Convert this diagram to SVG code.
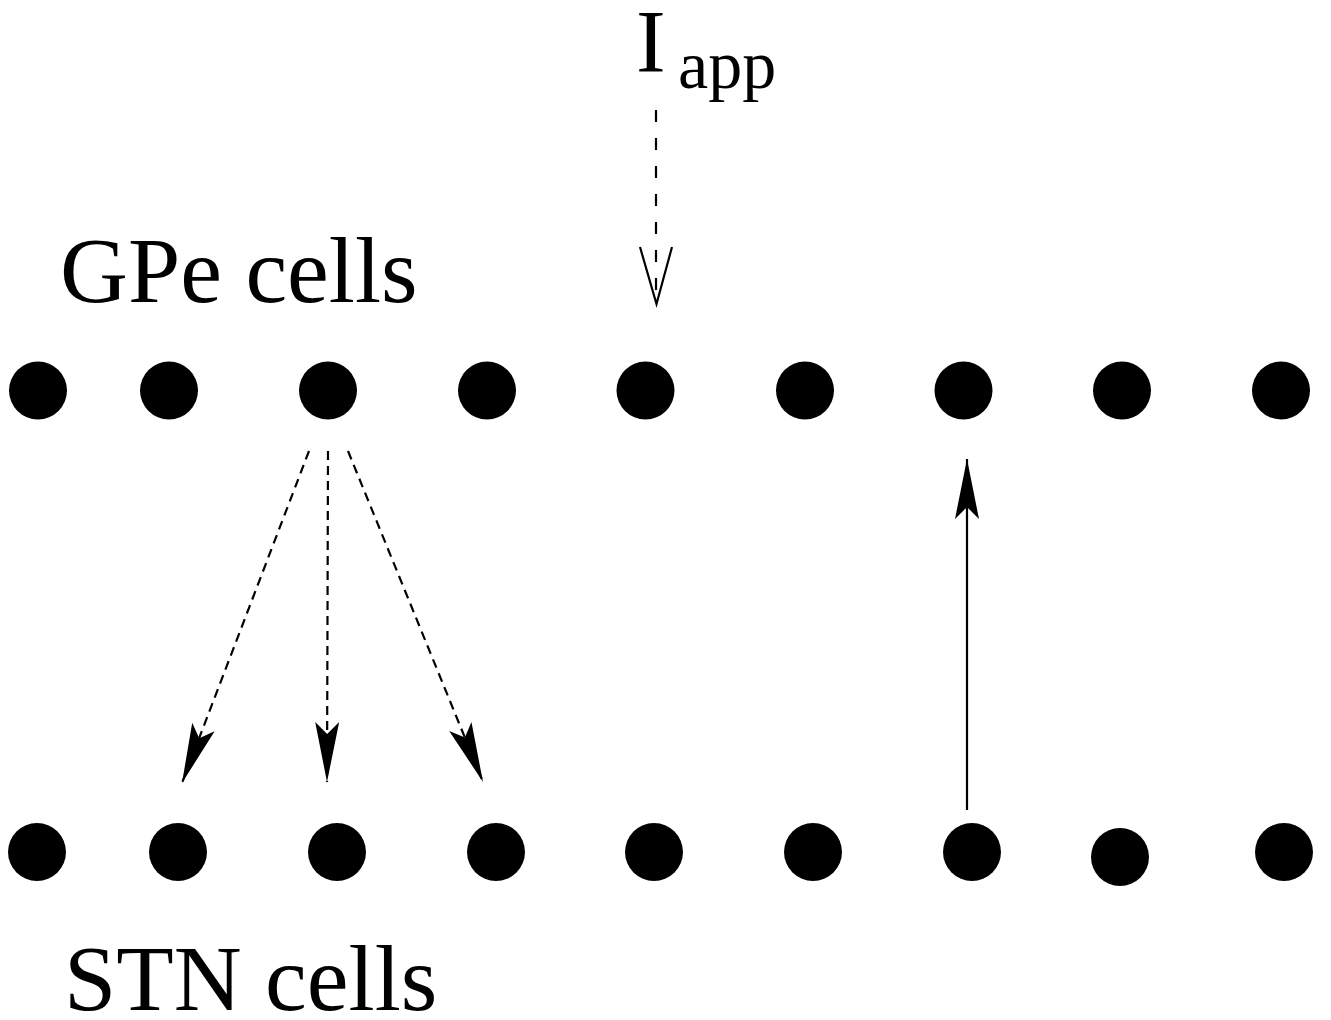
<svg xmlns="http://www.w3.org/2000/svg" width="1331" height="1020" viewBox="0 0 1331 1020">
<style>
.lbl{font-family:"Liberation Serif","Times New Roman",serif;fill:#000}
.dot{fill:#000}
.dash{stroke:#000;stroke-width:2.2;fill:none;stroke-dasharray:9 6}
.dashI{stroke:#000;stroke-width:2.2;fill:none;stroke-dasharray:12 16}
.solid{stroke:#000;stroke-width:2.2;fill:none}
</style>
<defs>
<marker id="ah" markerUnits="userSpaceOnUse" viewBox="-62 -14 64 28" refX="0" refY="0" markerWidth="64" markerHeight="28" orient="auto">
<path d="M0,0 L-60,-12 L-48,0 L-60,12 Z" fill="#000"/>
</marker>
</defs>
<rect width="1331" height="1020" fill="#fff"/>
<g id="label-Iapp">
<text class="lbl" x="636" y="71" font-size="89">I</text>
<text class="lbl" x="678" y="88" font-size="68">app</text>
</g>
<g id="label-GPe"><text class="lbl" x="60" y="302" font-size="94">GPe cells</text></g>
<g id="label-STN"><text class="lbl" x="64" y="1010" font-size="94">STN cells</text></g>
<g id="gpe-row">
<circle id="gpe1" class="dot" cx="38" cy="390.5" r="29"/>
<circle id="gpe2" class="dot" cx="169" cy="390.5" r="29"/>
<circle id="gpe3" class="dot" cx="328" cy="390.5" r="29"/>
<circle id="gpe4" class="dot" cx="487" cy="390.5" r="29"/>
<circle id="gpe5" class="dot" cx="645.5" cy="390.5" r="29"/>
<circle id="gpe6" class="dot" cx="805" cy="390.5" r="29"/>
<circle id="gpe7" class="dot" cx="963.5" cy="390.5" r="29"/>
<circle id="gpe8" class="dot" cx="1122" cy="390.5" r="29"/>
<circle id="gpe9" class="dot" cx="1281" cy="390.5" r="29"/>
</g>
<g id="stn-row">
<circle id="stn1" class="dot" cx="37" cy="852" r="29"/>
<circle id="stn2" class="dot" cx="178" cy="852" r="29"/>
<circle id="stn3" class="dot" cx="337" cy="852" r="29"/>
<circle id="stn4" class="dot" cx="496" cy="852" r="29"/>
<circle id="stn5" class="dot" cx="654" cy="852" r="29"/>
<circle id="stn6" class="dot" cx="813" cy="852" r="29"/>
<circle id="stn7" class="dot" cx="972" cy="852" r="29"/>
<circle id="stn8" class="dot" cx="1120" cy="857" r="29"/>
<circle id="stn9" class="dot" cx="1284" cy="852" r="29"/>
</g>
<g id="connectors">
<line class="dashI" x1="656" y1="110" x2="656" y2="303"/>
<polyline class="solid" points="640,247 656.5,304 672,247"/>
<line class="dash" x1="309" y1="451" x2="182" y2="783" marker-end="url(#ah)"/>
<line class="dash" x1="328" y1="451" x2="327" y2="782" marker-end="url(#ah)"/>
<line class="dash" x1="348" y1="451" x2="483" y2="782" marker-end="url(#ah)"/>
<line class="solid" x1="967" y1="810" x2="967" y2="459" marker-end="url(#ah)"/>
</g>
</svg>
